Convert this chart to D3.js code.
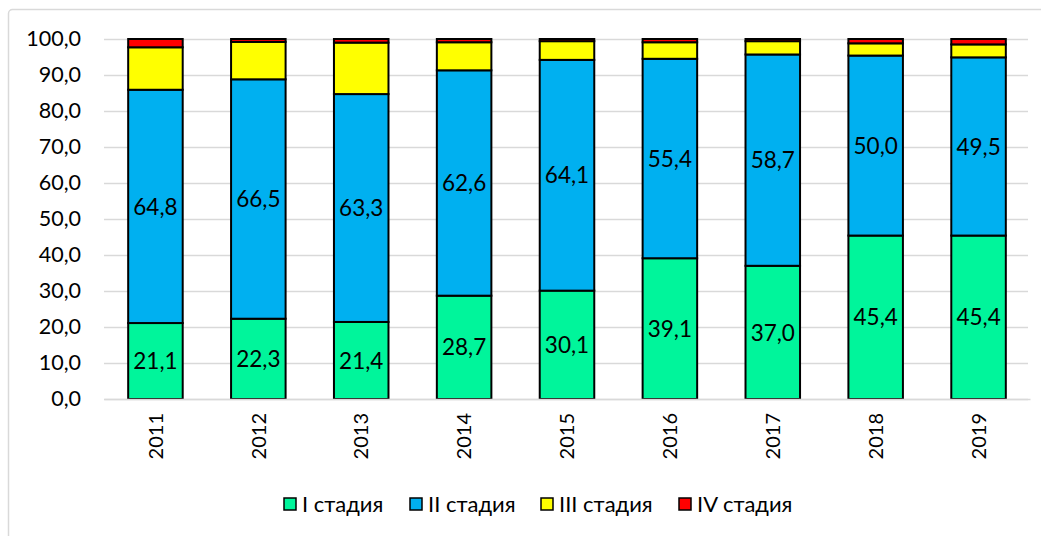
<!DOCTYPE html>
<html><head><meta charset="utf-8">
<script src="https://cdn.jsdelivr.net/npm/d3@7"></script>
<style>body{margin:0;background:#fff;} svg{display:block;}</style>
</head><body>
<svg id="chart" width="1041" height="536"></svg>
<script>
const years = ["2011","2012","2013","2014","2015","2016","2017","2018","2019"];
const stage1 = [21.1,22.3,21.4,28.7,30.1,39.1,37.0,45.4,45.4];
const stage2 = [64.8,66.5,63.3,62.6,64.1,55.4,58.7,50.0,49.5];
const stage3 = [11.8,10.4,14.3,7.8,5.2,4.6,3.7,3.4,3.6];
const stage4 = [2.3,0.8,1.0,0.9,0.6,0.9,0.6,1.2,1.5];
const seriesNames = ["I стадия","II стадия","III стадия","IV стадия"];
const seriesColors = ["#00F59B","#00B0F0","#FFFF00","#FF0000"];
const yTicks = [0,10,20,30,40,50,60,70,80,90,100];

const svg = d3.select("#chart");
const font = "Lato, 'Liberation Sans', sans-serif";
svg.append("rect").attr("x",8.5).attr("y",9.5).attr("width",1060).attr("height",560)
  .attr("fill","none").attr("stroke","#d9d9d9").attr("stroke-width",1.5).attr("rx",4);

const m = {left:104, right:1030, top:39, bottom:399};
const x = d3.scaleBand().domain(years).range([m.left, m.right]).paddingInner(0.47).paddingOuter(0.235);
const y = d3.scaleLinear().domain([0,100]).range([m.bottom, m.top]);

const rows = years.map((yr,i)=>({year:yr, s0:stage1[i], s1:stage2[i], s2:stage3[i], s3:stage4[i]}));
const stack = d3.stack().keys(["s0","s1","s2","s3"])(rows);

// gridlines
svg.append("g").selectAll("line").data(yTicks).join("line")
  .attr("x1",m.left).attr("x2",m.right-2)
  .attr("y1",d=>Math.round(y(d))+0.5).attr("y2",d=>Math.round(y(d))+0.5)
  .attr("stroke","#d9d9d9").attr("stroke-width",1.5);

// y axis labels
const yAxis = d3.axisLeft(y).tickValues(yTicks).tickSize(0).tickPadding(0)
  .tickFormat(d=>d3.format(".1f")(d).replace(".",","));
const gy = svg.append("g").attr("transform",`translate(${m.left-23},0)`).call(yAxis);
gy.select(".domain").remove();
gy.selectAll("text").attr("font-family",font).attr("font-size",21.5).attr("fill","#000");

// bars
const layers = svg.append("g").selectAll("g").data(stack).join("g")
  .attr("fill",(d,i)=>seriesColors[i]);
layers.selectAll("rect").data(d=>d).join("rect")
  .attr("x",d=>x(d.data.year)).attr("width",x.bandwidth())
  .attr("y",d=>y(d[1])).attr("height",d=>y(d[0])-y(d[1]))
  .attr("stroke","#000").attr("stroke-width",2);

// value labels for stage I and II
[0,1].forEach(k=>{
  svg.append("g").selectAll("text").data(stack[k]).join("text")
    .attr("x",d=>x(d.data.year)+x.bandwidth()/2)
    .attr("y",d=>y((d[0]+d[1])/2))
    .attr("dy","0.36em").attr("text-anchor","middle")
    .attr("font-family",font).attr("font-size",22.5).attr("fill","#000")
    .text(d=>d3.format(".1f")(d[1]-d[0]).replace(".",","));
});

// x axis
const xAxis = d3.axisBottom(x).tickSize(0).tickPadding(0);
const gx = svg.append("g").attr("transform",`translate(0,${m.bottom})`).call(xAxis);
gx.select(".domain").attr("stroke","#d9d9d9").attr("stroke-width",1.5);
gx.selectAll("text").attr("font-family",font).attr("font-size",20).attr("fill","#000")
  .attr("transform","rotate(-90)").attr("text-anchor","end").attr("x",-14).attr("y",0).attr("dy","0.36em");

// legend
const legendX = [284,410,541,679];
const lg = svg.append("g").selectAll("g").data(seriesNames).join("g")
  .attr("transform",(d,i)=>`translate(${legendX[i]},504)`);
lg.append("rect").attr("x",0).attr("y",-6).attr("width",12).attr("height",12)
  .attr("fill",(d,i)=>seriesColors[i]).attr("stroke","#000").attr("stroke-width",1.5);
lg.append("text").attr("x",18).attr("y",0).attr("dy","0.36em")
  .attr("font-family",font).attr("font-size",22).attr("fill","#000").text(d=>d);
</script>
</body></html>
